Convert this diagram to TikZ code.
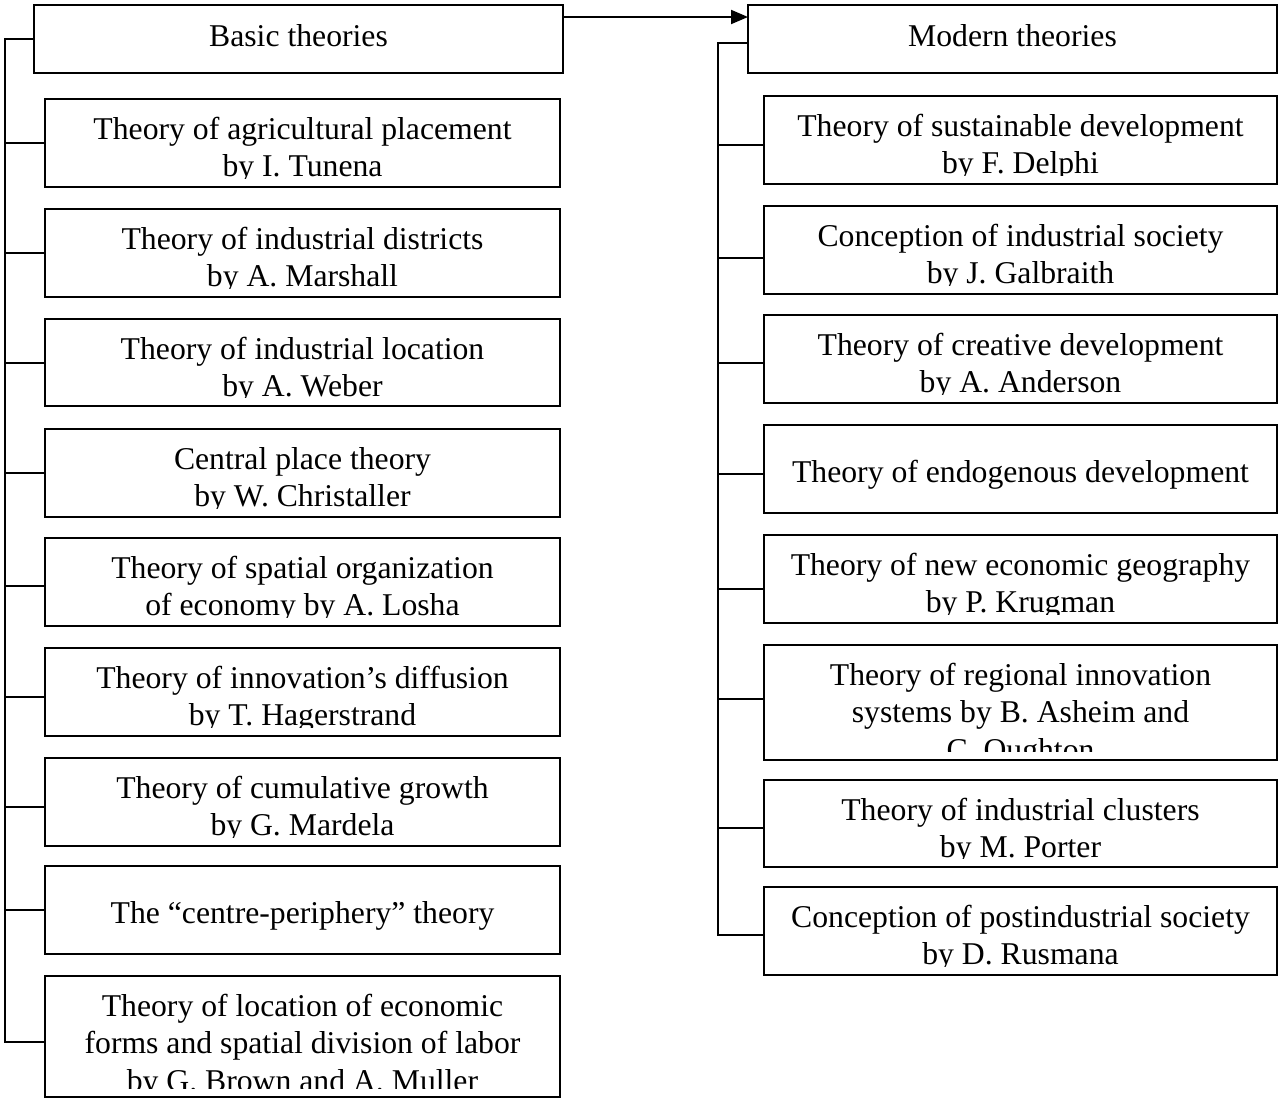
\documentclass[tikz,border=0pt]{standalone}
\usepackage{fontspec}
\setmainfont{Liberation Serif}
\usetikzlibrary{arrows.meta}
\tikzset{
  boxst/.style={draw, rectangle, line width=2pt, inner sep=0pt, outer sep=0pt},
  txtst/.style={inner sep=0pt, outer sep=0pt, anchor=base, font=\fontsize{31.7}{37.4}\selectfont},
  conn/.style={line width=2pt},
}
% #1 name, #2 left, #3 top, #4 right, #5 bottom, #6 first baseline offset, #7 branch shift, #8 text
\newcommand\mkbox[8]{%
  \node[boxst, minimum width={(#4-#2)*1pt}, minimum height={(#5-#3)*1pt}] (#1) at ({(#2+#4)/2},{(#3+#5)/2}) {};
  \begin{scope}
    \clip (#2,#3) rectangle (#4,#5-8.5);
    \node[txtst] (#1t) at ({(#2+#4)/2},{#3+#6}) {\begin{tabular}[t]{@{}c@{}}#8\end{tabular}};
  \end{scope}
  \coordinate (#1b) at ([yshift=#7pt]#1.west);
}
\begin{document}
\begin{tikzpicture}[x=1pt,y=-1pt]
\useasboundingbox (0,0) rectangle (1279,1098);

\mkbox{basic}{34}{5}{563}{73}{41.5}{0}{Basic theories}
\mkbox{modern}{748}{5}{1277}{73}{41.5}{-4}{Modern theories}

% left column
\mkbox{l1}{45}{99}{560}{187}{40.3}{0}{Theory of agricultural placement\\by I. Tunena}
\mkbox{l2}{45}{209}{560}{297}{40.3}{0}{Theory of industrial districts\\by A. Marshall}
\mkbox{l3}{45}{319}{560}{406}{40.3}{0}{Theory of industrial location\\by A. Weber}
\mkbox{l4}{45}{429}{560}{517}{40.3}{0}{Central place theory\\by W. Christaller}
\mkbox{l5}{45}{538}{560}{626}{40.3}{-4}{Theory of spatial organization\\of economy by A. Losha}
\mkbox{l6}{45}{648}{560}{736}{40.3}{-5}{Theory of innovation’s diffusion\\by T. Hagerstrand}
\mkbox{l7}{45}{758}{560}{846}{40.3}{-5}{Theory of cumulative growth\\by G. Mardela}
\mkbox{l8}{45}{866}{560}{954}{57}{0}{The “centre-periphery” theory}
\mkbox{l9}{45}{976}{560}{1097}{40.3}{-5}{Theory of location of economic\\forms and spatial division of labor\\by G. Brown and A. Muller}

% right column
\mkbox{r1}{764}{96}{1277}{184}{40.3}{-5}{Theory of sustainable development\\by F. Delphi}
\mkbox{r2}{764}{206}{1277}{294}{40.3}{-8}{Conception of industrial society\\by J. Galbraith}
\mkbox{r3}{764}{315}{1277}{403}{40.3}{-4}{Theory of creative development\\by A. Anderson}
\mkbox{r4}{764}{425}{1277}{513}{57}{-5}{Theory of endogenous development}
\mkbox{r5}{764}{535}{1277}{623}{40.3}{-10}{Theory of new economic geography\\by P. Krugman}
\mkbox{r6}{764}{645}{1277}{760}{40.3}{4}{Theory of regional innovation\\systems by B. Asheim and\\C. Oughton}
\mkbox{r7}{764}{780}{1277}{867}{40.3}{-4}{Theory of industrial clusters\\by M. Porter}
\mkbox{r8}{764}{887}{1277}{975}{40.3}{-4}{Conception of postindustrial society\\by D. Rusmana}

% spines
\coordinate (lsp) at (5,0);
\coordinate (rsp) at (718,0);

\draw[conn] (basicb) -| (lsp |- l9b) -- (l9b);
\foreach \n in {l1,l2,l3,l4,l5,l6,l7,l8}{
  \draw[conn] (lsp |- \n b) -- (\n b);
}
\draw[conn] (modernb) -| (rsp |- r8b) -- (r8b);
\foreach \n in {r1,r2,r3,r4,r5,r6,r7}{
  \draw[conn] (rsp |- \n b) -- (\n b);
}

% arrow between headers
\draw[conn, -{Triangle[length=17pt,width=14pt]}] ([yshift=22pt]basic.east) -- ([yshift=22pt]modern.west);
\end{tikzpicture}
\end{document}
